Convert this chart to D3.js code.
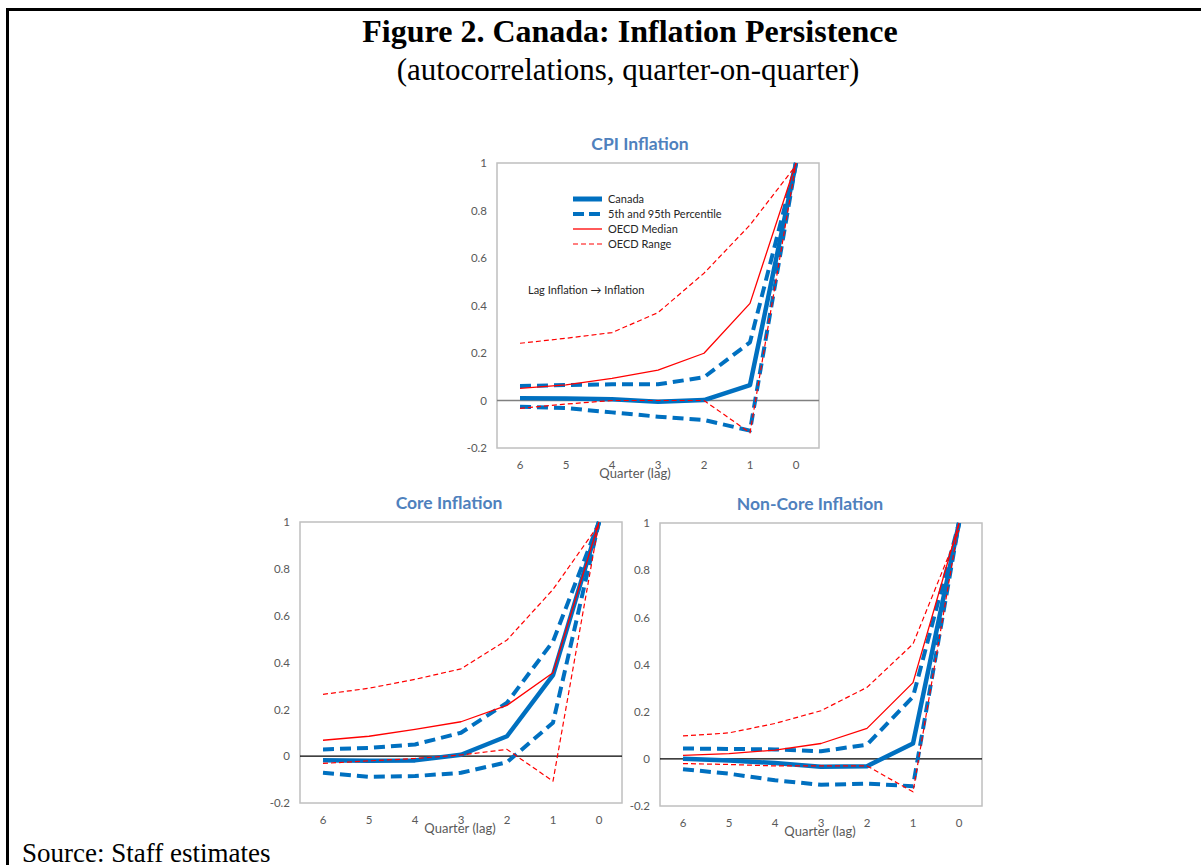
<!DOCTYPE html>
<html>
<head>
<meta charset="utf-8">
<script src="https://cdn.jsdelivr.net/npm/d3@7"></script>
<style>
  body { margin: 0; background: #fff; }
  svg { display: block; }
</style>
</head>
<body>
<svg width="1201" height="865"></svg>
<script>
// lags on the x axis, read right to left
var lags = [6, 5, 4, 3, 2, 1, 0];
var yTicks = [-0.2, 0, 0.2, 0.4, 0.6, 0.8, 1];

// CPI inflation
var cpiCanada   = [0.01, 0.008, 0.005, -0.005, 0.002, 0.065, 1];
var cpiUpper    = [0.061, 0.065, 0.068, 0.068, 0.098, 0.245, 1];
var cpiLower    = [-0.026, -0.032, -0.05, -0.068, -0.082, -0.127, 1];
var cpiMedian   = [0.051, 0.066, 0.093, 0.128, 0.199, 0.409, 1];
var cpiRangeHi  = [0.241, 0.262, 0.286, 0.37, 0.536, 0.739, 0.99];
var cpiRangeLo  = [-0.033, -0.015, 0.0, 0.0, 0.0, -0.136, 1];

// core inflation
var coreCanada  = [-0.017, -0.02, -0.018, 0.006, 0.085, 0.346, 1];
var coreUpper   = [0.029, 0.035, 0.05, 0.1, 0.228, 0.49, 1];
var coreLower   = [-0.071, -0.088, -0.085, -0.071, -0.026, 0.143, 1];
var coreMedian  = [0.068, 0.085, 0.114, 0.147, 0.217, 0.356, 1];
var coreRangeHi = [0.264, 0.29, 0.328, 0.373, 0.496, 0.712, 0.99];
var coreRangeLo = [-0.031, -0.02, -0.01, 0.005, 0.029, -0.107, 1];

// non-core inflation
var ncCanada    = [0.0, -0.007, -0.018, -0.034, -0.031, 0.065, 1];
var ncUpper     = [0.044, 0.042, 0.04, 0.032, 0.06, 0.263, 1];
var ncLower     = [-0.044, -0.063, -0.091, -0.11, -0.105, -0.116, 1];
var ncMedian    = [0.015, 0.022, 0.037, 0.065, 0.129, 0.323, 1];
var ncRangeHi   = [0.097, 0.11, 0.15, 0.204, 0.303, 0.487, 0.97];
var ncRangeLo   = [-0.02, -0.024, -0.03, -0.03, -0.03, -0.14, 1];

var legendItems = ["Canada", "5th and 95th Percentile", "OECD Median", "OECD Range"];

var svg = d3.select("svg");
var sans = "Lato, 'Open Sans', sans-serif";
var serif = "'Liberation Serif', 'Times New Roman', serif";
var blue = "#0070c0", red = "#ff0000";

// page frame
svg.append("path")
  .attr("d", "M7.5,865 V9.5 H1201")
  .attr("fill", "none").attr("stroke", "#000").attr("stroke-width", 3);

svg.append("text")
  .attr("x", 630).attr("y", 42)
  .attr("text-anchor", "middle")
  .attr("font-family", serif)
  .attr("font-weight", "bold").attr("font-size", 32)
  .text("Figure 2. Canada: Inflation Persistence");

svg.append("text")
  .attr("x", 628).attr("y", 80)
  .attr("text-anchor", "middle")
  .attr("font-family", serif)
  .attr("font-size", 31)
  .text("(autocorrelations, quarter-on-quarter)");

svg.append("text")
  .attr("x", 22).attr("y", 862)
  .attr("font-family", serif)
  .attr("font-size", 27)
  .text("Source: Staff estimates");

function panel(opt) {
  var x = d3.scaleBand().domain(lags).range([opt.x0, opt.x1]);
  var y = d3.scaleLinear().domain([-0.2, 1]).range([opt.y1, opt.y0]);
  var g = svg.append("g");

  g.append("text")
    .attr("x", opt.titleX).attr("y", opt.y0 - 13)
    .attr("text-anchor", "middle")
    .attr("font-family", sans).attr("font-weight", "bold")
    .attr("font-size", 17.5).attr("fill", "#4f81bd")
    .text(opt.title);

  g.append("rect")
    .attr("x", opt.x0).attr("y", opt.y0)
    .attr("width", opt.x1 - opt.x0).attr("height", opt.y1 - opt.y0)
    .attr("fill", "none").attr("stroke", "#bfbfbf").attr("stroke-width", 1.5);

  var yAxis = g.append("g")
    .attr("transform", "translate(" + (opt.x0 - 10) + ",0)")
    .call(d3.axisLeft(y).tickValues(yTicks).tickSize(0).tickPadding(0)
      .tickFormat(function(d) { return String(+d.toFixed(1)); }));
  yAxis.select(".domain").remove();
  yAxis.selectAll("text").attr("font-family", sans).attr("font-size", 11.5).attr("fill", "#595959");

  var xAxis = g.append("g")
    .attr("transform", "translate(0," + (opt.y1 + 13) + ")")
    .call(d3.axisBottom(x).tickSize(0).tickPadding(0));
  xAxis.select(".domain").remove();
  xAxis.selectAll("text").attr("font-family", sans).attr("font-size", 11.5).attr("fill", "#595959");

  g.append("text")
    .attr("x", opt.xLabelX).attr("y", opt.y1 + 30)
    .attr("text-anchor", "middle")
    .attr("font-family", sans).attr("font-size", 13).attr("fill", "#595959")
    .text("Quarter (lag)");

  g.append("line")
    .attr("x1", opt.x0).attr("x2", opt.x1)
    .attr("y1", y(0)).attr("y2", y(0))
    .attr("stroke", opt.zeroColor).attr("stroke-width", 1.3);

  var line = d3.line()
    .x(function(d, i) { return x(lags[i]) + x.bandwidth() / 2; })
    .y(function(d) { return y(d); });

  var series = [
    { v: opt.canada, c: blue, w: 4.5, dash: null },
    { v: opt.upper, c: blue, w: 4, dash: "11,6" },
    { v: opt.lower, c: blue, w: 4, dash: "11,6" },
    { v: opt.median, c: red, w: 1.3, dash: null },
    { v: opt.rangeHi, c: red, w: 1.2, dash: "5,3" },
    { v: opt.rangeLo, c: red, w: 1.2, dash: "5,3" }
  ];
  series.forEach(function(s) {
    g.append("path")
      .attr("d", line(s.v))
      .attr("fill", "none")
      .attr("stroke", s.c)
      .attr("stroke-width", s.w)
      .attr("stroke-dasharray", s.dash)
      .attr("stroke-linejoin", "round");
  });
  return g;
}

var cpiPanel = panel({
  title: "CPI Inflation", titleX: 640, xLabelX: 635,
  x0: 497, x1: 819, y0: 163, y1: 448, zeroColor: "#808080",
  canada: cpiCanada, upper: cpiUpper, lower: cpiLower,
  median: cpiMedian, rangeHi: cpiRangeHi, rangeLo: cpiRangeLo
});

panel({
  title: "Core Inflation", titleX: 449, xLabelX: 460,
  x0: 300, x1: 622, y0: 522, y1: 803, zeroColor: "#000",
  canada: coreCanada, upper: coreUpper, lower: coreLower,
  median: coreMedian, rangeHi: coreRangeHi, rangeLo: coreRangeLo
});

panel({
  title: "Non-Core Inflation", titleX: 810, xLabelX: 820,
  x0: 660, x1: 982, y0: 523, y1: 806, zeroColor: "#000",
  canada: ncCanada, upper: ncUpper, lower: ncLower,
  median: ncMedian, rangeHi: ncRangeHi, rangeLo: ncRangeLo
});

// legend in the CPI panel
var legStyles = [
  { c: blue, w: 5, dash: null },
  { c: blue, w: 4, dash: "11,5" },
  { c: red, w: 1.3, dash: null },
  { c: red, w: 1.2, dash: "5,3" }
];
var leg = cpiPanel.selectAll(".leg").data(legendItems).enter().append("g")
  .attr("transform", function(d, i) { return "translate(573," + (199 + i * 15) + ")"; });
leg.append("line")
  .attr("x1", 0).attr("x2", 29)
  .attr("stroke", function(d, i) { return legStyles[i].c; })
  .attr("stroke-width", function(d, i) { return legStyles[i].w; })
  .attr("stroke-dasharray", function(d, i) { return legStyles[i].dash; });
leg.append("text")
  .attr("x", 35).attr("dy", "0.35em")
  .attr("font-family", sans).attr("font-size", 11).attr("fill", "#262626")
  .text(function(d) { return d; });

cpiPanel.append("text")
  .attr("x", 528).attr("y", 294)
  .attr("font-family", sans).attr("font-size", 11).attr("fill", "#262626")
  .text("Lag Inflation \u2192 Inflation");
</script>
</body>
</html>
